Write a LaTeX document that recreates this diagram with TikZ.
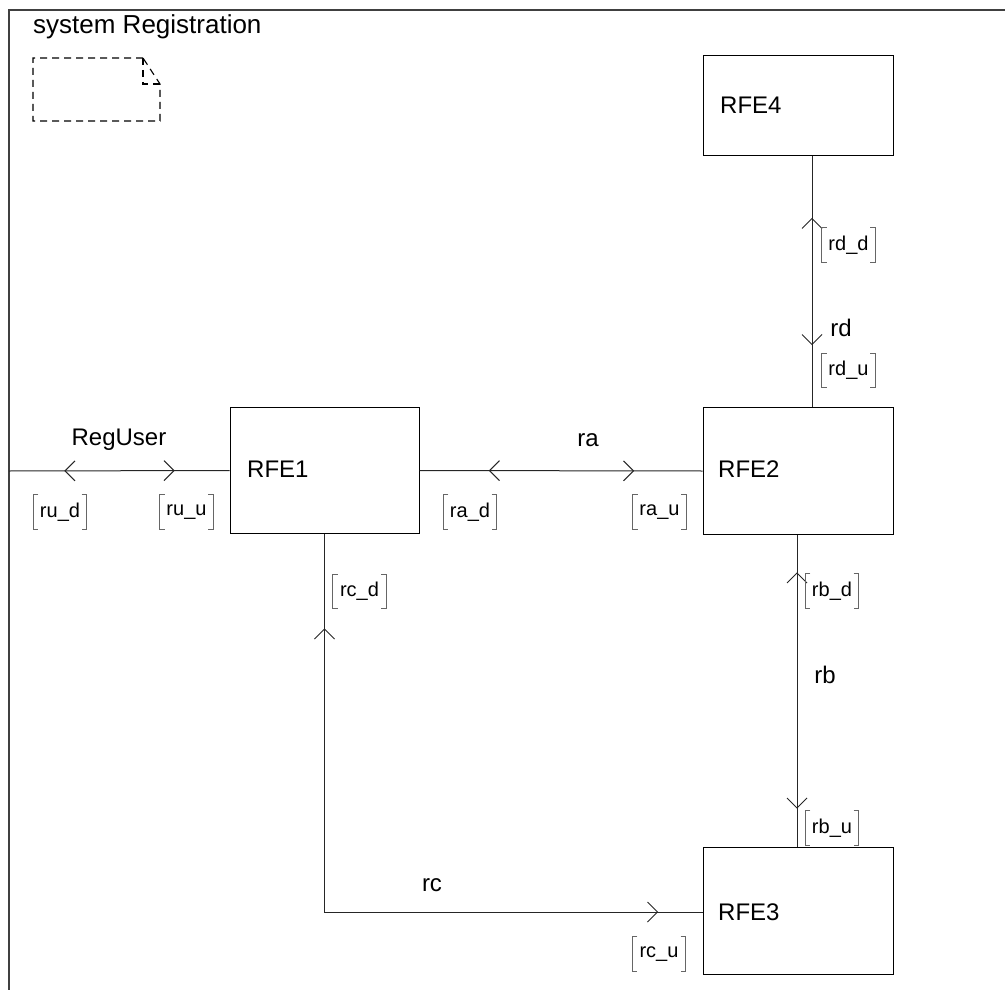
\documentclass[tikz,border=0pt]{standalone}
\usepackage{fontspec}
\setmainfont{Liberation Sans}
\usetikzlibrary{decorations.markings}
\tikzset{
  box/.style={draw=black, line width=1pt, inner sep=0pt},
  big/.style={font=\fontsize{24}{24}\selectfont, inner sep=0pt},
  lbl/.style={font=\fontsize{20}{20}\selectfont, inner sep=0pt, minimum width=53pt, minimum height=34pt},
  brk/.style={draw=black!60, line width=0.8pt},
  conn/.style={draw=black!85, line width=1pt},
  fwd/.style={postaction={decorate, decoration={markings, mark=at position #1 with {\draw[black!85, line width=1pt] (-10pt,10pt) -- (0pt,0pt) -- (-10pt,-10pt);}}}},
  bwd/.style={postaction={decorate, decoration={markings, mark=at position #1 with {\draw[black!85, line width=1pt] (10pt,10pt) -- (0pt,0pt) -- (10pt,-10pt);}}}},
  frame/.style={draw=black!75, line width=1.2pt},
  note/.style={draw=black, line width=1.1pt, dash pattern=on 7pt off 5pt}
}
\newcommand\brlab[3]{%
  \node[lbl] (#1) at (#2) {#3};
  \draw[brk] ([xshift=5pt]#1.north west) -- (#1.north west) -- (#1.south west) -- ([xshift=5pt]#1.south west);
  \draw[brk] ([xshift=-5pt]#1.north east) -- (#1.north east) -- (#1.south east) -- ([xshift=-5pt]#1.south east);}
\begin{document}
\begin{tikzpicture}[x=1pt,y=-1pt]
\useasboundingbox (0,0) rectangle (1005,990);
% frame
\coordinate (ftr) at (1005,10);
\coordinate (ftl) at (9,10);
\coordinate (fbl) at (9,990);
\draw[frame] (ftr) -- (ftl) -- (fbl);
\node[anchor=west, font=\fontsize{26}{26}\selectfont, inner sep=0pt] (title) at (33,27) {system Registration};
% note symbol
\draw[note] (143,58) -- (33,58) -- (33,121) -- (160,121) -- (160,84) -- (143,58);
\draw[note] (143,58) -- (143,84) -- (160,84);
% boxes
\node[box, minimum width=189pt, minimum height=126pt] (RFE1) at (324.5,470.5) {};
\node[box, minimum width=190pt, minimum height=127pt] (RFE2) at (798,471) {};
\node[box, minimum width=190pt, minimum height=99pt] (RFE4) at (798,105.5) {};
\node[box, minimum width=190pt, minimum height=127pt] (RFE3) at (798,910.5) {};
\node[big, anchor=west] (RFE1t) at (247,469) {RFE1};
\node[big, anchor=west] (RFE2t) at (718,469) {RFE2};
\node[big, anchor=west] (RFE4t) at (720,105) {RFE4};
\node[big, anchor=west] (RFE3t) at (718,912) {RFE3};
% connectors
\coordinate (env) at (9,471);
\draw[conn, bwd=56pt, fwd=165pt] (env) -- (RFE1.west);
\draw[conn, bwd=70pt, fwd=214pt] (RFE1.east) -- (RFE2.west);
\draw[conn, bwd=63pt, fwd=189pt] ([xshift=14pt]RFE4.south) -- ([xshift=14pt]RFE2.north);
\draw[conn, bwd=38pt, fwd=273pt] ([xshift=-1pt]RFE2.south) -- ([xshift=-1pt]RFE3.north);
\draw[conn, bwd=95pt, fwd=711pt] (RFE1.south) |- ([yshift=-1.5pt]RFE3.west);
% connector labels
\node[big] (lRegUser) at (119,440) {RegUser};
\node[big] (lra) at (588,440) {ra};
\node[big] (lrd) at (841,328) {rd};
\node[big] (lrb) at (825,675) {rb};
\node[big] (lrc) at (432,885) {rc};
% bracketed labels
\brlab{rud}{60,512}{ru\_d}
\brlab{ruu}{186.5,512}{ru\_u}
\brlab{rad}{470,512}{ra\_d}
\brlab{rau}{659.5,512}{ra\_u}
\brlab{rdd}{848.5,245}{rd\_d}
\brlab{rdu}{848.5,370.5}{rd\_u}
\brlab{rbd}{832,591}{rb\_d}
\brlab{rbu}{832,828}{rb\_u}
\brlab{rcd}{359.5,591.5}{rc\_d}
\brlab{rcu}{659,954}{rc\_u}
\end{tikzpicture}
\end{document}
